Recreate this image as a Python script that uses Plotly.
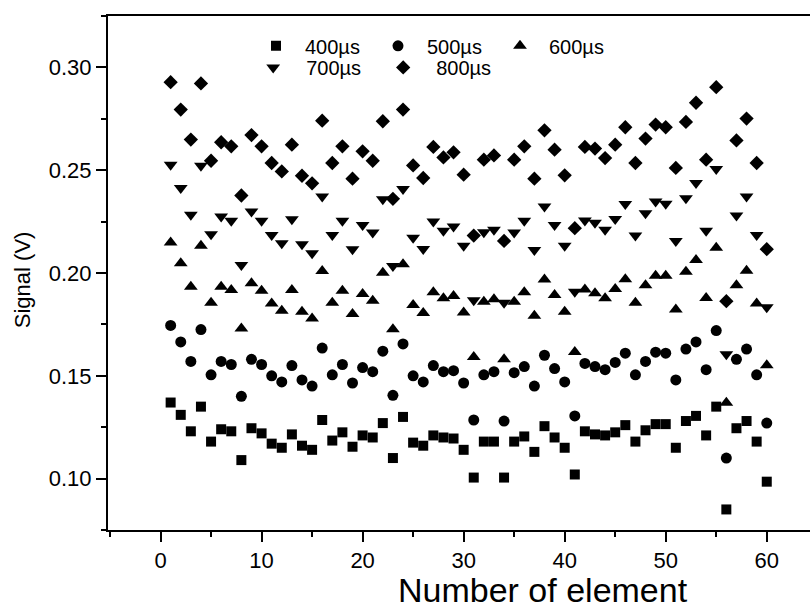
import plotly.graph_objects as go

# Element numbers (categories on the x axis)
elements = list(range(1, 61))

s400 = [0.137, 0.131, 0.123, 0.135, 0.118, 0.124, 0.123, 0.109, 0.1245, 0.122,
        0.117, 0.115, 0.1215, 0.116, 0.114, 0.1285, 0.1185, 0.1225, 0.1155, 0.121,
        0.120, 0.127, 0.110, 0.130, 0.1175, 0.116, 0.121, 0.120, 0.1195, 0.114,
        0.1005, 0.118, 0.118, 0.1005, 0.118, 0.1205, 0.113, 0.1255, 0.120, 0.115,
        0.102, 0.123, 0.1215, 0.121, 0.1225, 0.126, 0.118, 0.1235, 0.1265, 0.1265,
        0.115, 0.128, 0.1305, 0.121, 0.135, 0.085, 0.1245, 0.128, 0.118, 0.0985]

s500 = [0.1745, 0.1665, 0.157, 0.1725, 0.1505, 0.157, 0.1555, 0.140, 0.158, 0.1555,
        0.150, 0.147, 0.155, 0.148, 0.145, 0.1635, 0.1505, 0.1555, 0.1465, 0.154,
        0.152, 0.162, 0.1405, 0.1655, 0.150, 0.147, 0.155, 0.152, 0.1525, 0.1465,
        0.1285, 0.1505, 0.152, 0.128, 0.1515, 0.1545, 0.145, 0.160, 0.1535, 0.147,
        0.1305, 0.156, 0.1545, 0.153, 0.1565, 0.161, 0.1505, 0.157, 0.1615, 0.161,
        0.148, 0.163, 0.1665, 0.153, 0.172, 0.110, 0.158, 0.163, 0.1505, 0.127]

s600 = [0.2148, 0.2047, 0.1933, 0.2132, 0.1855, 0.1933, 0.1917, 0.173, 0.195, 0.1914,
        0.1852, 0.1816, 0.1917, 0.1811, 0.1779, 0.201, 0.1855, 0.1914, 0.180, 0.1898,
        0.1865, 0.2001, 0.1727, 0.2042, 0.1844, 0.1806, 0.1906, 0.1877, 0.1888, 0.1808,
        0.1592, 0.186, 0.1872, 0.158, 0.186, 0.1906, 0.1792, 0.1968, 0.1893, 0.1811,
        0.1616, 0.192, 0.1901, 0.1877, 0.1922, 0.197, 0.1855, 0.1941, 0.1987, 0.1987,
        0.1823, 0.2006, 0.2063, 0.1878, 0.2123, 0.1369, 0.1941, 0.2011, 0.1852, 0.1551]

s700 = [0.2527, 0.2413, 0.2283, 0.2522, 0.2189, 0.2275, 0.2254, 0.2039, 0.2299, 0.2254,
        0.2185, 0.2145, 0.2262, 0.214, 0.2096, 0.2372, 0.2185, 0.2254, 0.2116, 0.2234,
        0.2197, 0.2359, 0.2034, 0.2408, 0.2172, 0.2117, 0.225, 0.2205, 0.2226, 0.2133,
        0.1868, 0.2198, 0.221, 0.1855, 0.2197, 0.2254, 0.2112, 0.2323, 0.2234, 0.2132,
        0.1909, 0.2255, 0.2245, 0.221, 0.2263, 0.2335, 0.2182, 0.2291, 0.2348, 0.2337,
        0.2156, 0.2364, 0.2438, 0.2205, 0.2506, 0.1605, 0.228, 0.2372, 0.2185, 0.1833]

s800 = [0.2928, 0.2795, 0.2649, 0.2922, 0.2546, 0.2636, 0.2616, 0.2377, 0.2671, 0.2616,
        0.2535, 0.2494, 0.2624, 0.2473, 0.2436, 0.2741, 0.2535, 0.2616, 0.2459, 0.2592,
        0.2546, 0.2738, 0.2361, 0.2795, 0.2523, 0.2462, 0.2613, 0.2562, 0.2587, 0.2478,
        0.2182, 0.2551, 0.2572, 0.2156, 0.2551, 0.2616, 0.2459, 0.2694, 0.26, 0.2475,
        0.2218, 0.2613, 0.2605, 0.2559, 0.2624, 0.2709, 0.2535, 0.2654, 0.2722, 0.2709,
        0.2511, 0.2735, 0.2828, 0.2551, 0.2904, 0.1863, 0.2645, 0.2751, 0.2535, 0.2116]

series_names = ["400µs", "500µs", "600µs", "700µs", "800µs"]
series_values = [s400, s500, s600, s700, s800]
symbols = ["square", "circle", "triangle-up", "triangle-down", "diamond"]
sizes = [10, 11, 12, 12, 11]
legend_ids = ["legend", "legend", "legend", "legend2", "legend2"]

FONT = "Arial, Liberation Sans, sans-serif"

fig = go.Figure()
for name, vals, sym, sz, lg in zip(series_names, series_values, symbols, sizes, legend_ids):
    fig.add_trace(go.Scatter(
        x=elements, y=vals, mode="markers", name=name, legend=lg,
        marker=dict(symbol=sym, size=sz, color="black", line=dict(width=0)),
    ))

legend_common = dict(orientation="h", xanchor="left", yanchor="middle",
                     font=dict(family=FONT, size=20, color="black"),
                     bgcolor="rgba(0,0,0,0)", borderwidth=0,
                     tracegroupgap=0)

fig.update_layout(
    width=810, height=610,
    margin=dict(l=108, r=0, t=16, b=80),
    paper_bgcolor="white", plot_bgcolor="white",
    font=dict(family=FONT, color="black"),
    showlegend=True,
    legend=dict(x=0.198, y=0.942, itemwidth=48, entrywidth=59, **legend_common),
    legend2=dict(x=0.1883, y=0.900, itemwidth=56, entrywidth=59, **legend_common),
    xaxis=dict(range=[-5.2, 64.28], tickmode="array", tickvals=[0, 10, 20, 30, 40, 50, 60],
               ticks="outside", ticklen=10, tickwidth=2, tickcolor="black",
               showline=True, linewidth=2, linecolor="black", mirror=True,
               showgrid=False, zeroline=False,
               tickfont=dict(family=FONT, size=22, color="black"),
               minor=dict(tickvals=[-5, 5, 15, 25, 35, 45, 55], ticks="outside",
                          ticklen=5, tickwidth=2, tickcolor="black", showgrid=False)),
    yaxis=dict(range=[0.075, 0.325], tickmode="array",
               tickvals=[0.10, 0.15, 0.20, 0.25, 0.30], tickformat=".2f",
               ticks="outside", ticklen=10, tickwidth=2, tickcolor="black",
               showline=True, linewidth=2, linecolor="black", mirror=False,
               showgrid=False, zeroline=False,
               tickfont=dict(family=FONT, size=22, color="black"),
               minor=dict(tickvals=[0.075, 0.125, 0.175, 0.225, 0.275, 0.325], ticks="outside",
                          ticklen=5, tickwidth=2, tickcolor="black", showgrid=False)),
    annotations=[
        dict(text="Number of element", xref="paper", yref="paper", x=0.62, y=-0.117,
             xanchor="center", yanchor="middle", showarrow=False,
             font=dict(family=FONT, size=34, color="black")),
        dict(text="Signal (V)", xref="paper", yref="paper", x=-0.1225, y=0.486,
             xanchor="center", yanchor="middle", showarrow=False, textangle=-90,
             font=dict(family=FONT, size=22, color="black")),
    ],
)

fig.write_html("out.html")
